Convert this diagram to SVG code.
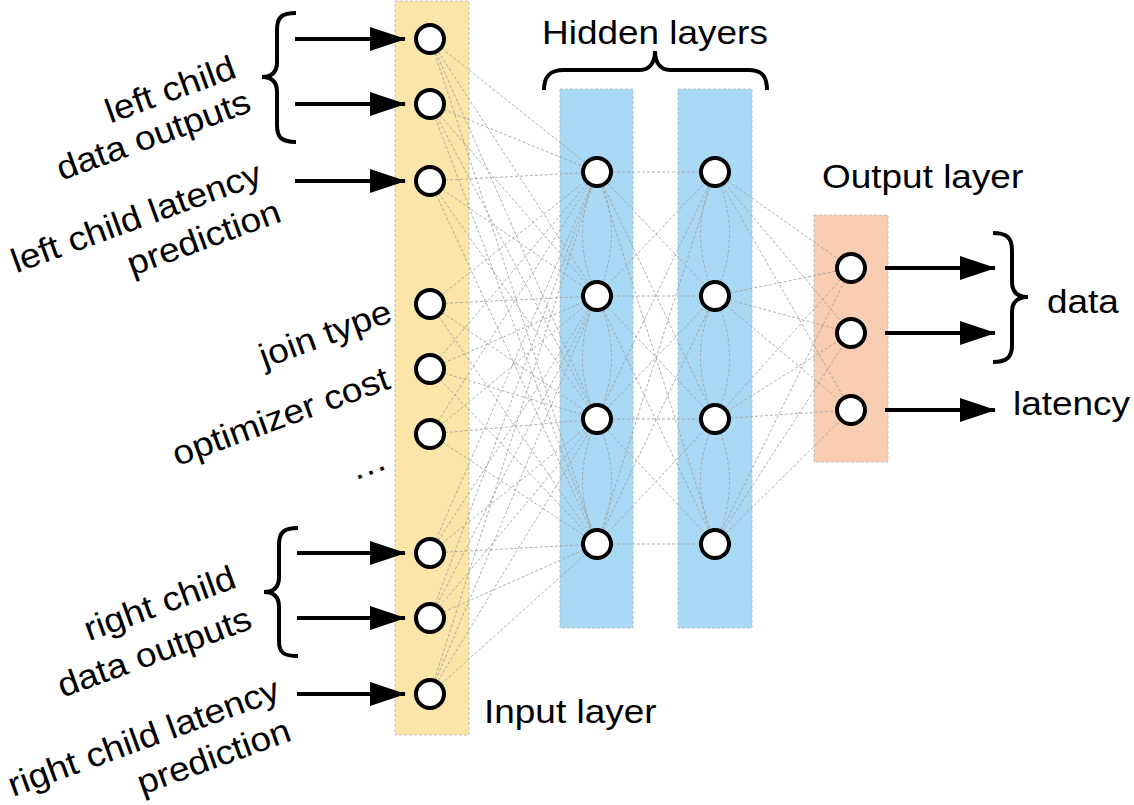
<svg xmlns="http://www.w3.org/2000/svg" width="1134" height="805" viewBox="0 0 1134 805">
<style>
.lbl{font-family:"Liberation Sans",Arial,sans-serif;font-size:33px;fill:#000}
.rot{font-size:34px}
.node{fill:#fff;stroke:#000;stroke-width:4}
.conn{stroke:#a0a0a0;stroke-width:0.85;stroke-dasharray:3 2;fill:none}
.arrow{stroke:#000;stroke-width:4;fill:none}
.brace{stroke:#000;stroke-width:4;fill:none;stroke-linecap:butt}
.lay{stroke:#b5b5b5;stroke-width:0.8;stroke-dasharray:3 2}
</style>
<defs>
<marker id="ah" markerWidth="36" markerHeight="24" refX="35" refY="12" markerUnits="userSpaceOnUse" orient="auto">
<path d="M0,0 L36,12 L0,24 Z" fill="#000"/>
</marker>
</defs>
<rect width="1134" height="805" fill="#fff"/>
<g id="layers">
<rect id="input-layer" class="lay" x="395" y="1" width="74" height="734" fill="#FCE5A9"/>
<rect id="hidden-layer-1" class="lay" x="560" y="89" width="73" height="539" fill="#A9D9F5"/>
<rect id="hidden-layer-2" class="lay" x="678" y="89" width="74" height="539" fill="#A9D9F5"/>
<rect id="output-layer" class="lay" x="814" y="215" width="74" height="247" fill="#F8CDB1"/>
</g>
<g id="connectors">
<g class="conn">
<path d="M430,39L597,172M430,39L597,296M430,39L597,419M430,39L597,544"/>
<path d="M430,104L597,172M430,104L597,296M430,104L597,419M430,104L597,544"/>
<path d="M430,181L597,172M430,181L597,296M430,181L597,419M430,181L597,544"/>
<path d="M430,304L597,172M430,304L597,296M430,304L597,419M430,304L597,544"/>
<path d="M430,369L597,172M430,369L597,296M430,369L597,419M430,369L597,544"/>
<path d="M430,434L597,172M430,434L597,296M430,434L597,419M430,434L597,544"/>
<path d="M430,553L597,172M430,553L597,296M430,553L597,419M430,553L597,544"/>
<path d="M430,618L597,172M430,618L597,296M430,618L597,419M430,618L597,544"/>
<path d="M430,694L597,172M430,694L597,296M430,694L597,419M430,694L597,544"/>
<path d="M597,172L715,172M597,172L715,296M597,172L715,419M597,172L715,544"/>
<path d="M597,296L715,172M597,296L715,296M597,296L715,419M597,296L715,544"/>
<path d="M597,419L715,172M597,419L715,296M597,419L715,419M597,419L715,544"/>
<path d="M597,544L715,172M597,544L715,296M597,544L715,419M597,544L715,544"/>
<path d="M715,172L851,268M715,172L851,333M715,172L851,410"/>
<path d="M715,296L851,268M715,296L851,333M715,296L851,410"/>
<path d="M715,419L851,268M715,419L851,333M715,419L851,410"/>
<path d="M715,544L851,268M715,544L851,333M715,544L851,410"/>
<path d="M597,172Q568,234 597,296M597,172Q626,234 597,296M597,296Q568,357 597,419M597,296Q626,357 597,419M597,419Q568,482 597,544M597,419Q626,482 597,544"/>
<path d="M715,172Q686,234 715,296M715,172Q744,234 715,296M715,296Q686,357 715,419M715,296Q744,357 715,419M715,419Q686,482 715,544M715,419Q744,482 715,544"/>
</g>
<g id="arrows" class="arrow">
<line x1="295" y1="39" x2="405" y2="39" marker-end="url(#ah)"/>
<line x1="295" y1="104" x2="405" y2="104" marker-end="url(#ah)"/>
<line x1="295" y1="181" x2="405" y2="181" marker-end="url(#ah)"/>
<line x1="297" y1="553" x2="405" y2="553" marker-end="url(#ah)"/>
<line x1="297" y1="618" x2="405" y2="618" marker-end="url(#ah)"/>
<line x1="297" y1="694" x2="405" y2="694" marker-end="url(#ah)"/>
<line x1="885" y1="268" x2="995" y2="268" marker-end="url(#ah)"/>
<line x1="885" y1="333" x2="995" y2="333" marker-end="url(#ah)"/>
<line x1="885" y1="410" x2="995" y2="410" marker-end="url(#ah)"/>
</g>
</g>
<g id="braces" class="brace">
<path d="M296,13 C282,13 277,17 277,30 L277,62 C277,72 272,77 262,77 C272,77 277,82 277,92 L277,125 C277,138 282,142 296,142"/>
<path d="M298,528 C284,528 279,532 279,545 L279,577 C279,587 274,592 264,592 C274,592 279,597 279,607 L279,641 C279,653 284,656 298,656"/>
<path d="M544,90 C544,76 550,70 564,70 L640,70 C650,70 655,62 655,51 C655,62 660,70 670,70 L748,70 C762,70 767,76 767,90"/>
<path d="M993,233 C1007,233 1012,238 1012,250 L1012,282 C1012,292 1017,297 1028,297 C1017,297 1012,302 1012,312 L1012,345 C1012,357 1007,362 993,362"/>
</g>
<g id="input-nodes">
<circle id="in1" class="node" cx="430" cy="39" r="14"/>
<circle id="in2" class="node" cx="430" cy="104" r="14"/>
<circle id="in3" class="node" cx="430" cy="181" r="14"/>
<circle id="in4" class="node" cx="430" cy="304" r="14"/>
<circle id="in5" class="node" cx="430" cy="369" r="14"/>
<circle id="in6" class="node" cx="430" cy="434" r="14"/>
<circle id="in7" class="node" cx="430" cy="553" r="14"/>
<circle id="in8" class="node" cx="430" cy="618" r="14"/>
<circle id="in9" class="node" cx="430" cy="694" r="14"/>
</g>
<g id="hidden1-nodes">
<circle id="h1a" class="node" cx="597" cy="172" r="14"/>
<circle id="h1b" class="node" cx="597" cy="296" r="14"/>
<circle id="h1c" class="node" cx="597" cy="419" r="14"/>
<circle id="h1d" class="node" cx="597" cy="544" r="14"/>
</g>
<g id="hidden2-nodes">
<circle id="h2a" class="node" cx="715" cy="172" r="14"/>
<circle id="h2b" class="node" cx="715" cy="296" r="14"/>
<circle id="h2c" class="node" cx="715" cy="419" r="14"/>
<circle id="h2d" class="node" cx="715" cy="544" r="14"/>
</g>
<g id="output-nodes">
<circle id="o1" class="node" cx="851" cy="268" r="14"/>
<circle id="o2" class="node" cx="851" cy="333" r="14"/>
<circle id="o3" class="node" cx="851" cy="410" r="14"/>
</g>
<g id="labels" class="lbl">
<text transform="translate(542,44) scale(1.12,1)">Hidden layers</text>
<text transform="translate(822,188) scale(1.12,1)">Output layer</text>
<text transform="translate(484,723) scale(1.12,1)">Input layer</text>
<text transform="translate(1047,313) scale(1.12,1)">data</text>
<text transform="translate(1013,415) scale(1.12,1)">latency</text>
<g text-anchor="end" class="rot">
<text transform="translate(238,77) rotate(-20) scale(1.09,1)">left child</text>
<text transform="translate(253,111) rotate(-20) scale(1.09,1)">data outputs</text>
<text transform="translate(264,183) rotate(-20) scale(1.09,1)">left child latency</text>
<text transform="translate(283,221) rotate(-20) scale(1.09,1)">prediction</text>
<text transform="translate(394,321) rotate(-20) scale(1.09,1)">join type</text>
<text transform="translate(392,388) rotate(-20) scale(1.09,1)">optimizer cost</text>
<text transform="translate(389,468) rotate(-20) scale(1.09,1)">…</text>
<text transform="translate(238,587) rotate(-20) scale(1.09,1)">right child</text>
<text transform="translate(254,628) rotate(-20) scale(1.09,1)">data outputs</text>
<text transform="translate(282,699) rotate(-20) scale(1.09,1)">right child latency</text>
<text transform="translate(293,740) rotate(-20) scale(1.09,1)">prediction</text>
</g>
</g>
</svg>
